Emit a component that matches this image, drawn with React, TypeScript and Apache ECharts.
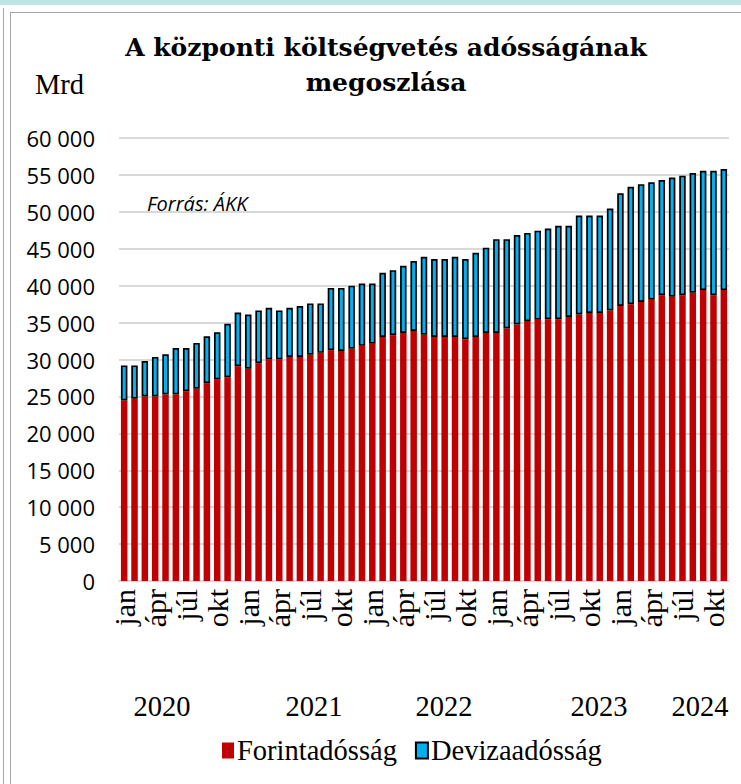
import React, { useEffect, useRef } from "react";
import * as echarts from "echarts";

const YEARS = ["2020", "2021", "2022", "2023", "2024"];
const MONTHS = ["jan", "febr", "márc", "ápr", "máj", "jún", "júl", "aug", "szept", "okt", "nov", "dec"];
const CATEGORIES = YEARS.flatMap((y) => MONTHS.map((m) => `${y} ${m}`)).slice(0, 59);

// Forintadósság (Mrd Ft)
const FORINT = [
  24450, 24700, 25000, 25000, 25250, 25250, 25700, 26050, 26800, 27300, 27600, 29100,
  28750, 29500, 30000, 30000, 30350, 30350, 30650, 30900, 31250, 31150, 31450, 31850,
  32150, 33050, 33300, 33600, 33850, 33350, 33050, 33050, 33050, 32750, 33050, 33600,
  33600, 34200, 34750, 35200, 35400, 35450, 35450, 35750, 36100, 36300, 36300, 36650,
  37250, 37500, 37800, 38100, 38700, 38500, 38700, 39050, 39400, 38700, 39400,
];
// Devizaadósság (Mrd Ft)
const DEVIZA = [
  4750, 4500, 4800, 5350, 5450, 6300, 5850, 6200, 6350, 6400, 7250, 7250,
  7350, 7150, 7000, 6650, 6650, 6900, 6950, 6700, 8450, 8550, 8550, 8450,
  8150, 8700, 8800, 9100, 9500, 10550, 10550, 10550, 10850, 10850, 11400, 11550,
  12700, 12100, 12100, 11950, 12050, 12300, 12650, 12350, 13400, 13200, 13200, 13800,
  15250, 15900, 15950, 15900, 15600, 16150, 16200, 16200, 16150, 16850, 16400,
];

const SERIES_NAMES = ["Forintadósság", "Devizaadósság"];
const TITLE = "A központi költségvetés adósságának\nmegoszlása";
const UNIT = "Mrd";
const SOURCE = "Forrás: ÁKK";
const Y_MIN = 0;
const Y_MAX = 60000;
const Y_STEP = 5000;
const YEAR_LABEL_X = [162, 314, 444, 599, 700];

const fmt = (v: number) => {
  const s = String(Math.round(v));
  return s.replace(/\B(?=(\d{3})+(?!\d))/g, " ");
};

export default function App() {
  const ref = useRef<HTMLDivElement>(null);

  useEffect(() => {
    if (!ref.current) return;
    const chart = echarts.init(ref.current, undefined, { renderer: "svg" });
    const serif = "'Liberation Serif', 'Times New Roman', serif";
    chart.setOption({
      animation: false,
      backgroundColor: "transparent",
      grid: { left: 119, right: 12, top: 138, bottom: 203, containLabel: false },
      legend: {
        left: 217,
        top: 731,
        icon: "rect",
        itemWidth: 12,
        itemHeight: 16,
        itemGap: 18,
        data: SERIES_NAMES,
        textStyle: { fontFamily: serif, fontSize: 28.5, color: "#000", padding: [0, 0, 0, -2] },
      },
      xAxis: {
        type: "category",
        data: CATEGORIES,
        axisTick: { show: false },
        axisLine: { lineStyle: { color: "#d9d9d9", width: 2 } },
        axisLabel: {
          interval: 2,
          rotate: 90,
          margin: 8,
          fontFamily: serif,
          fontSize: 30,
          color: "#000",
          formatter: (v: string) => v.split(" ")[1],
        },
      },
      yAxis: {
        type: "value",
        min: Y_MIN,
        max: Y_MAX,
        interval: Y_STEP,
        axisLine: { show: false },
        axisTick: { show: false },
        splitLine: { lineStyle: { color: "#d9d9d9", width: 2 } },
        axisLabel: {
          margin: 24,
          fontFamily: "'Open Sans', sans-serif",
          fontSize: 22,
          color: "#000",
          formatter: (v: number) => fmt(v),
        },
      },
      series: [
        {
          name: SERIES_NAMES[0],
          type: "bar",
          stack: "total",
          barWidth: 6.5,
          data: FORINT,
          itemStyle: { color: "#C00000" },
        },
        {
          name: SERIES_NAMES[1],
          type: "bar",
          stack: "total",
          barWidth: 6.5,
          data: DEVIZA,
          itemStyle: { color: "#00B0F0", borderColor: "#000", borderWidth: 1.7 },
        },
      ],
      graphic: [
        {
          type: "text",
          x: 386,
          y: 30,
          style: {
            text: TITLE,
            textAlign: "center",
            textVerticalAlign: "top",
            fontFamily: "DejaVu Serif",
            fontWeight: "bold",
            fontSize: 25,
            lineHeight: 35,
            fill: "#000",
          },
        },
        {
          type: "text",
          x: 35,
          y: 84,
          style: {
            text: UNIT,
            textVerticalAlign: "middle",
            fontFamily: serif,
            fontSize: 28.5,
            fill: "#000",
          },
        },
        {
          type: "text",
          x: 147,
          y: 203,
          style: {
            text: SOURCE,
            textVerticalAlign: "middle",
            fontFamily: "'Open Sans', sans-serif",
            fontStyle: "italic",
            fontSize: 20,
            fill: "#000",
          },
        },
        ...YEARS.map((y, i) => ({
          type: "text",
          x: YEAR_LABEL_X[i],
          y: 706,
          style: {
            text: y,
            textAlign: "center",
            textVerticalAlign: "middle",
            fontFamily: serif,
            fontSize: 28.5,
            fill: "#000",
          },
        })),
      ],
    });
    return () => chart.dispose();
  }, []);

  return (
    <div style={{ position: "absolute", left: 0, top: 0, width: 741, height: 784, background: "#fff", overflow: "hidden" }}>
      <div style={{ position: "absolute", left: 0, top: 0, width: 741, height: 5, background: "#bfe4e6" }} />
      <div style={{ position: "absolute", left: 3, top: 8, width: 1, height: 776, background: "#a6a6a6" }} />
      <div
        style={{
          position: "absolute",
          left: 10,
          top: 12,
          width: 800,
          height: 800,
          borderLeft: "1px solid #a6a6a6",
          borderTop: "1px solid #a6a6a6",
        }}
      />
      <div ref={ref} style={{ position: "absolute", left: 0, top: 0, width: 741, height: 784 }} />
    </div>
  );
}
